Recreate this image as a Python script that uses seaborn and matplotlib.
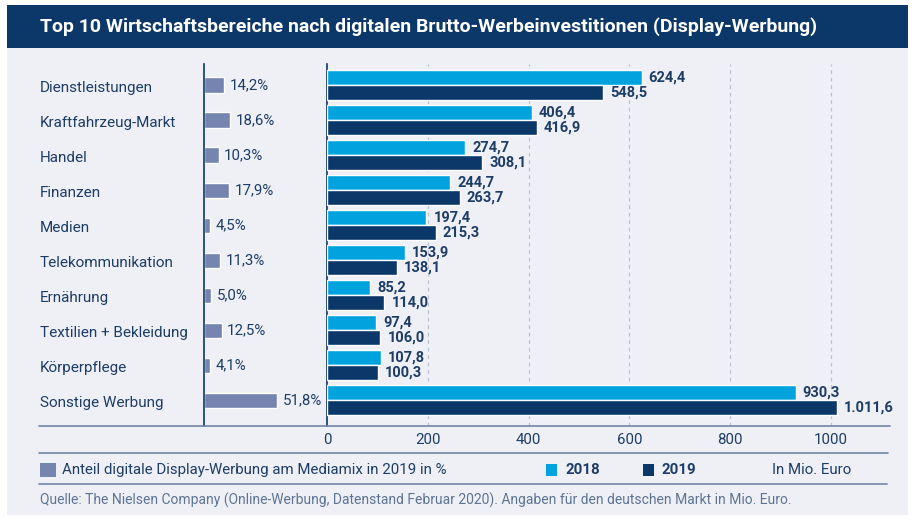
import pandas as pd
import matplotlib.pyplot as plt
from matplotlib.patches import Rectangle
from matplotlib.lines import Line2D
import seaborn as sns

# Daten
kategorien = ['Dienstleistungen', 'Kraftfahrzeug-Markt', 'Handel', 'Finanzen', 'Medien',
              'Telekommunikation', 'Ernährung', 'Textilien + Bekleidung', 'Körperpflege',
              'Sonstige Werbung']
werte_2018 = [624.4, 406.4, 274.7, 244.7, 197.4, 153.9, 85.2, 97.4, 107.8, 930.3]
werte_2019 = [548.5, 416.9, 308.1, 263.7, 215.3, 138.1, 114.0, 106.0, 100.3, 1011.6]
anteil_2019 = [14.2, 18.6, 10.3, 17.9, 4.5, 11.3, 5.0, 12.5, 4.1, 51.8]
jahre = ['2018', '2019']
x_ticks = [0, 200, 400, 600, 800, 1000]

NAVY = '#0b3868'
HELLBLAU = '#00a3de'
GRAUBLAU = '#7585b0'
TEXT = '#1d3d66'
BG = '#eef0f6'
LINIE = '#6f84a3'

sns.set_style('white')
plt.rcParams['font.family'] = ['Roboto', 'DejaVu Sans']

W, H = 915, 523


def box(x0, y0, x1, y1):
    # Pixelrechteck -> Figurkoordinaten
    return [x0 / W, 1 - y1 / H, (x1 - x0) / W, (y1 - y0) / H]


def rect(x0, y0, x1, y1, farbe, z=1):
    fig.add_artist(Rectangle((x0 / W, 1 - y1 / H), (x1 - x0) / W, (y1 - y0) / H,
                             transform=fig.transFigure, facecolor=farbe,
                             edgecolor='none', zorder=z))


def de(v):
    s = f'{v:,.1f}'
    return s.replace(',', 'X').replace('.', ',').replace('X', '.')


fig = plt.figure(figsize=(9.15, 5.23), dpi=100)
fig.patch.set_facecolor('white')

# Hintergrund und Titelbalken
rect(7, 48, 908, 515, BG, z=-2)
rect(7, 5, 908, 48, NAVY, z=-2)
fig.text(40 / W, 1 - 27 / H,
         'Top 10 Wirtschaftsbereiche nach digitalen Brutto-Werbeinvestitionen (Display-Werbung)',
         color='white', fontsize=14, fontweight='bold', va='center', ha='left')

# Hauptdiagramm
df = pd.DataFrame({
    'Bereich': kategorien * 2,
    'Jahr': [jahre[0]] * len(kategorien) + [jahre[1]] * len(kategorien),
    'Wert': werte_2018 + werte_2019,
})

ax = fig.add_axes(box(327, 64, 890, 426))
ax.set_facecolor('none')
sns.barplot(data=df, y='Bereich', x='Wert', hue='Jahr', order=kategorien, hue_order=jahre,
            palette=[HELLBLAU, NAVY], orient='h', width=0.84, saturation=1,
            legend=False, ax=ax, zorder=3)
ax.set_xlim(0, 1117)
ax.set_ylim(9.74, -0.6)
ax.set_xticks(x_ticks)
ax.set_xticklabels([str(t) for t in x_ticks], color=TEXT, fontsize=10.8)
ax.tick_params(axis='x', length=0, pad=5)
ax.set_yticks([])
ax.set_xlabel('')
ax.set_ylabel('')
for t in x_ticks[1:]:
    ax.axvline(t, color='#b9c1d3', lw=0.9, ls=(0, (3, 3)), zorder=1)
for s in ['top', 'right', 'bottom']:
    ax.spines[s].set_visible(False)
ax.spines['left'].set_color(NAVY)
ax.spines['left'].set_linewidth(1.2)

for cont in ax.containers:
    labels = [de(b.get_width()) for b in cont]
    ax.bar_label(cont, labels=labels, padding=5, color=TEXT, fontsize=10.5,
                 fontweight='bold')

# Linkes Diagramm: Anteil am Mediamix
ax2 = fig.add_axes(box(204, 64, 320, 426))
ax2.set_facecolor('none')
sns.barplot(x=anteil_2019, y=kategorien, order=kategorien, color=GRAUBLAU, saturation=1,
            orient='h', width=0.43, ax=ax2)
ax2.set_xlim(0, 82.3)
ax2.set_ylim(9.74, -0.6)
ax2.set_xticks([])
ax2.set_yticks([])
for s in ['top', 'right', 'bottom']:
    ax2.spines[s].set_visible(False)
ax2.spines['left'].set_color(NAVY)
ax2.spines['left'].set_linewidth(1.2)
ax2.bar_label(ax2.containers[0], labels=[f'{a:.1f}%'.replace('.', ',') for a in anteil_2019],
              padding=4, color=TEXT, fontsize=10.8)
trans = ax2.get_yaxis_transform()
for i, k in enumerate(kategorien):
    ax2.text((40 - 204) / 116, i + 0.05, k, transform=trans, ha='left',
             va='center_baseline', color=TEXT, fontsize=11)

# Trennlinien
for y, x1 in [(426, 890), (453, 888), (484, 887)]:
    fig.add_artist(Line2D([39 / W, x1 / W], [1 - y / H, 1 - y / H], color=LINIE, lw=1.2))

# Legende
ly = 1 - 470 / H
rect(40, 463, 56, 477, GRAUBLAU)
fig.text(62 / W, ly, 'Anteil digitale Display-Werbung am Mediamix in 2019 in %',
         color=TEXT, fontsize=10.8, va='center')
for x0, farbe, jahr in [(546, HELLBLAU, jahre[0]), (643, NAVY, jahre[1])]:
    rect(x0, 464, x0 + 11, 476, farbe)
    fig.text((x0 + 19) / W, ly, jahr, color=TEXT, fontsize=10.8, fontweight='bold',
             va='center')
fig.text(772 / W, ly, 'In Mio. Euro', color=TEXT, fontsize=10.8, va='center')

# Quelle
fig.text(40 / W, 1 - 500 / H,
         'Quelle: The Nielsen Company (Online-Werbung, Datenstand Februar 2020). '
         'Angaben für den deutschen Markt in Mio. Euro.',
         color='#5d7494', fontsize=10, va='center')

fig.savefig('out.png', dpi=100)
